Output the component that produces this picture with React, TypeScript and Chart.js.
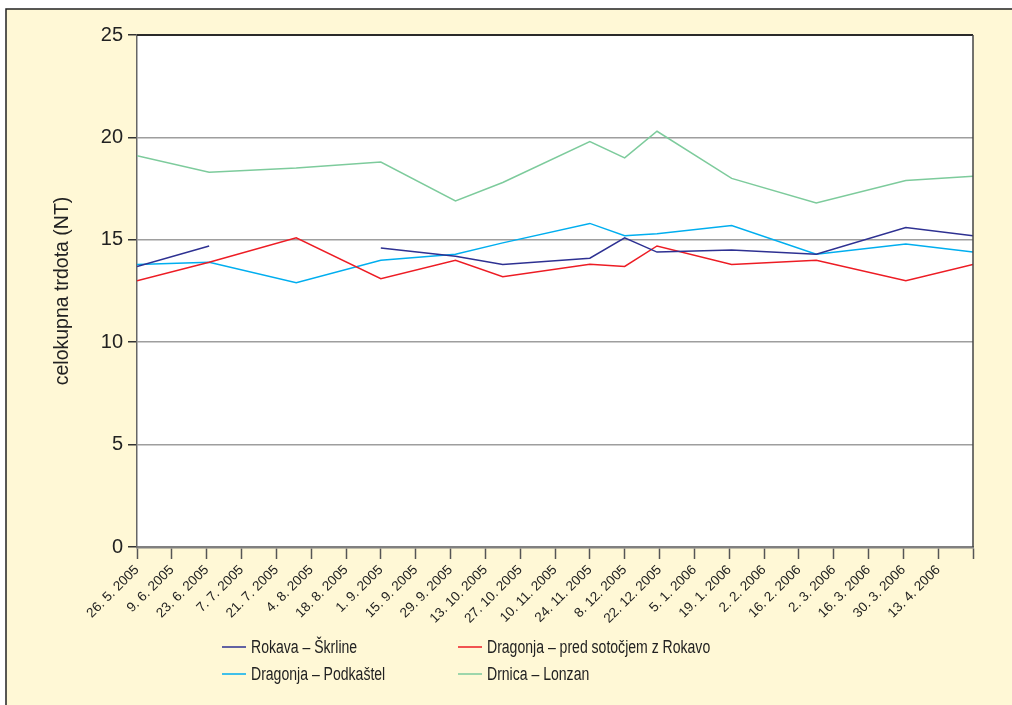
import React, { useEffect, useRef } from "react";
import { Chart, registerables } from "chart.js";

Chart.register(...registerables);

// ---- Data ----
const sampleDates = [
  "2005-05-26", "2005-06-24", "2005-07-29", "2005-09-01", "2005-10-01", "2005-10-20",
  "2005-11-24", "2005-12-08", "2005-12-21", "2006-01-20", "2006-02-23", "2006-03-31", "2006-04-27",
];
const rokava = [13.7, 14.7, null, 14.6, 14.2, 13.8, 14.1, 15.1, 14.4, 14.5, 14.3, 15.6, 15.2];
const dragonjaPred = [13.0, 13.9, 15.1, 13.1, 14.0, 13.2, 13.8, 13.7, 14.7, 13.8, 14.0, 13.0, 13.8];
const podkastel = [13.8, 13.9, 12.9, 14.0, 14.3, 14.85, 15.8, 15.2, 15.3, 15.7, 14.3, 14.8, 14.4];
const drnica = [19.1, 18.3, 18.5, 18.8, 16.9, 17.8, 19.8, 19.0, 20.3, 18.0, 16.8, 17.9, 18.1];

const seriesNames = [
  "Rokava – Škrline",
  "Dragonja – pred sotočjem z Rokavo",
  "Dragonja – Podkaštel",
  "Drnica – Lonzan",
];
const seriesColors = ["#2e3192", "#ed1c24", "#00aeef", "#7dcb9c"];

const tickLabels = [
  "26. 5. 2005", "9. 6. 2005", "23. 6. 2005", "7. 7. 2005", "21. 7. 2005", "4. 8. 2005",
  "18. 8. 2005", "1. 9. 2005", "15. 9. 2005", "29. 9. 2005", "13. 10. 2005", "27. 10. 2005",
  "10. 11. 2005", "24. 11. 2005", "8. 12. 2005", "22. 12. 2005", "5. 1. 2006", "19. 1. 2006",
  "2. 2. 2006", "16. 2. 2006", "2. 3. 2006", "16. 3. 2006", "30. 3. 2006", "13. 4. 2006",
];
const axisStart = "2005-05-26";
const axisEnd = "2006-04-27";
const tickStepDays = 14;
const yTitle = "celokupna trdota (NT)";

const FONT = "'Liberation Sans', Arial, sans-serif";

function toDays(s: string): number {
  const [y, m, d] = s.split("-").map(Number);
  const [y0, m0, d0] = axisStart.split("-").map(Number);
  return Math.round((Date.UTC(y, m - 1, d) - Date.UTC(y0, m0 - 1, d0)) / 86400000);
}

const framePlugin = {
  id: "frame",
  beforeDraw(chart: any) {
    const { ctx, width, height, chartArea } = chart;
    ctx.save();
    ctx.fillStyle = "#ffffff";
    ctx.fillRect(0, 0, width, height);
    ctx.fillStyle = "#fff8d6";
    ctx.fillRect(6, 9, width - 6, height - 9);
    ctx.fillStyle = "#ffffff";
    ctx.fillRect(chartArea.left, chartArea.top, chartArea.right - chartArea.left, chartArea.bottom - chartArea.top);
    ctx.strokeStyle = "#222";
    ctx.lineWidth = 1.5;
    ctx.beginPath();
    ctx.moveTo(6, height);
    ctx.lineTo(6, 9);
    ctx.lineTo(width, 9);
    ctx.stroke();
    ctx.restore();
  },
  afterDraw(chart: any) {
    const { ctx, chartArea } = chart;
    ctx.save();
    ctx.strokeStyle = "#2a2a2a";
    ctx.lineWidth = 1.8;
    ctx.beginPath();
    ctx.moveTo(chartArea.left, chartArea.top);
    ctx.lineTo(chartArea.right, chartArea.top);
    ctx.stroke();
    ctx.lineWidth = 1.5;
    ctx.strokeStyle = "#444";
    ctx.beginPath();
    ctx.moveTo(chartArea.right, chartArea.top);
    ctx.lineTo(chartArea.right, chartArea.bottom);
    ctx.stroke();
    // legend
    const cols = [222, 458];
    const rows = [647, 674];
    ctx.font = `18px ${FONT}`;
    ctx.textBaseline = "middle";
    ctx.textAlign = "left";
    chart.data.datasets.forEach((ds: any, i: number) => {
      const cx = cols[i % 2];
      const cy = rows[Math.floor(i / 2)];
      ctx.strokeStyle = ds.borderColor;
      ctx.lineWidth = 1.5;
      ctx.beginPath();
      ctx.moveTo(cx, cy);
      ctx.lineTo(cx + 24, cy);
      ctx.stroke();
      ctx.save();
      ctx.translate(cx + 29, cy + 1);
      ctx.scale(0.78, 1);
      ctx.fillStyle = "#222";
      ctx.fillText(ds.label, 0, 0);
      ctx.restore();
    });
    ctx.restore();
  },
};

export default function App() {
  const ref = useRef<HTMLCanvasElement>(null);
  useEffect(() => {
    if (!ref.current) return;
    const days = sampleDates.map(toDays);
    const seriesValues = [rokava, dragonjaPred, podkastel, drnica];
    const chart = new Chart(ref.current, {
      type: "line",
      data: {
        datasets: seriesValues.map((vals, i) => ({
          label: seriesNames[i],
          data: days.map((x, j) => ({ x, y: vals[j] })),
          borderColor: seriesColors[i],
          backgroundColor: seriesColors[i],
          borderWidth: 1.5,
          pointRadius: 0,
          tension: 0,
          spanGaps: false,
        })),
      },
      options: {
        animation: false,
        responsive: false,
        layout: { padding: { top: 35, right: 39, left: 0, bottom: 0 } },
        plugins: { legend: { display: false }, tooltip: { enabled: false } },
        scales: {
          x: {
            type: "linear",
            min: 0,
            max: toDays(axisEnd),
            afterFit(scale: any) { scale.height = 158; },
            afterBuildTicks(scale: any) {
              const t = [];
              for (let v = 0; v <= toDays(axisEnd); v += tickStepDays) t.push({ value: v });
              scale.ticks = t;
            },
            ticks: {
              autoSkip: false,
              maxRotation: 45,
              minRotation: 45,
              padding: 3,
              color: "#222",
              font: { family: FONT, size: 13.5 },
              callback: (_v: any, i: number) => tickLabels[i] ?? "",
            },
            grid: { drawOnChartArea: false, drawTicks: true, tickLength: 12, tickColor: "#555", tickWidth: 1.5 },
            border: { color: "#808080", width: 2.5 },
          },
          y: {
            min: 0,
            max: 25,
            afterFit(scale: any) { scale.width = 137; },
            ticks: { stepSize: 5, padding: 5, color: "#222", font: { family: FONT, size: 20 } },
            grid: { color: "#9e9e9e", lineWidth: 1.5, tickLength: 9, tickColor: "#333", tickWidth: 1.5 },
            border: { color: "#666", width: 1.5 },
            title: {
              display: true,
              text: yTitle,
              color: "#222",
              font: { family: FONT, size: 19.5 },
              padding: { top: 51, bottom: 0 },
            },
          },
        },
      },
      plugins: [framePlugin],
    });
    return () => chart.destroy();
  }, []);
  return (
    <div style={{ position: "fixed", left: 0, top: 0, width: 1012, height: 705 }}>
      <canvas ref={ref} width={1012} height={705} />
    </div>
  );
}
